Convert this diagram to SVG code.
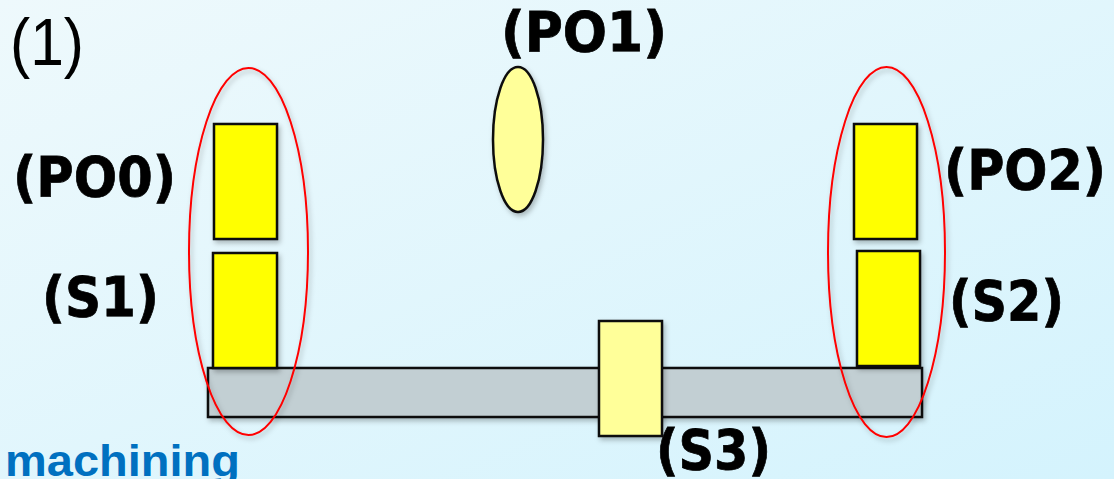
<svg xmlns="http://www.w3.org/2000/svg" width="1114" height="479" viewBox="0 0 1114 479">
  <defs>
    <linearGradient id="bg" x1="0" y1="0" x2="1" y2="1">
      <stop offset="0" stop-color="#EEF9FC"/>
      <stop offset="1" stop-color="#D4F3FD"/>
    </linearGradient>
    <filter id="sh" x="-20%" y="-20%" width="150%" height="150%">
      <feDropShadow dx="2" dy="3" stdDeviation="2.5" flood-color="#000" flood-opacity="0.25"/>
    </filter>
    <style>
      .y { fill: #FFFF00; stroke: #111; stroke-width: 2.5; filter: url(#sh); }
      .ly { fill: #FFFF99; stroke: #111; stroke-width: 2.5; filter: url(#sh); }
      .bar { fill: #C2CFD3; stroke: #111; stroke-width: 2.5; filter: url(#sh); }
      .ring { fill: none; stroke: #FF0000; stroke-width: 2; filter: url(#sh); }
      .lbl { font-family: "DejaVu Sans", Verdana, sans-serif; font-weight: bold; font-size: 56px; fill: #000; stroke: #000; stroke-width: 0.8; }
    </style>
  </defs>
  <rect x="0" y="0" width="1114" height="479" fill="url(#bg)"/>

  <text x="10" y="65" font-family="Liberation Sans, Arial, sans-serif" font-size="66" fill="#000" textLength="74" lengthAdjust="spacingAndGlyphs">(1)</text>
  <text x="5" y="476" font-family="Liberation Sans, Arial, sans-serif" font-weight="bold" font-size="45" fill="#0070C0" textLength="235" lengthAdjust="spacingAndGlyphs">machining</text>

  <g id="bar"><rect class="bar" x="208" y="368" width="714" height="49"/></g>
  <g id="PO0"><rect class="y" x="214" y="124" width="63" height="115"/><text class="lbl" x="13" y="196" textLength="163" lengthAdjust="spacingAndGlyphs">(PO0)</text></g>
  <g id="S1"><rect class="y" x="213" y="253" width="64" height="115"/><text class="lbl" x="42" y="316" textLength="117" lengthAdjust="spacingAndGlyphs">(S1)</text></g>
  <g id="PO1"><ellipse class="ly" cx="518" cy="139.5" rx="25" ry="72.5"/><text class="lbl" x="501" y="51" textLength="166" lengthAdjust="spacingAndGlyphs">(PO1)</text></g>
  <g id="PO2"><rect class="y" x="854" y="124" width="63" height="115"/><text class="lbl" x="944" y="189" textLength="162" lengthAdjust="spacingAndGlyphs">(PO2)</text></g>
  <g id="S2"><rect class="y" x="857" y="251" width="63" height="115"/><text class="lbl" x="949" y="320" textLength="115" lengthAdjust="spacingAndGlyphs">(S2)</text></g>
  <g id="S3"><rect class="ly" x="599" y="321" width="63" height="115"/><text class="lbl" x="656" y="469" textLength="115" lengthAdjust="spacingAndGlyphs">(S3)</text></g>

  <g id="connectors">
    <ellipse class="ring" cx="248.5" cy="251.5" rx="59.5" ry="183.5"/>
    <ellipse class="ring" cx="886.5" cy="252" rx="58.5" ry="185"/>
  </g>
</svg>
